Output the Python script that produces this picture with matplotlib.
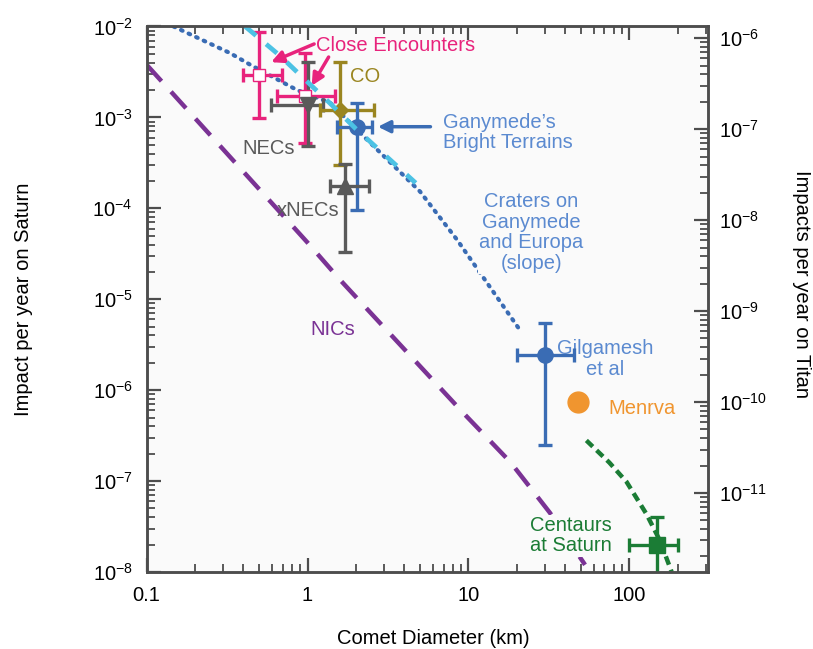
import numpy as np
import matplotlib
matplotlib.use("Agg")
import matplotlib.pyplot as plt
from matplotlib.ticker import LogLocator, NullFormatter, FixedLocator

plt.rcParams['font.family'] = ['Liberation Sans', 'DejaVu Sans']
plt.rcParams['mathtext.fontset'] = 'custom'
plt.rcParams['mathtext.rm'] = 'Liberation Sans'
plt.rcParams['mathtext.it'] = 'Liberation Sans:italic'

# Model curves (diameter km, impacts per year on Saturn)
nics_d = [0.1, 1.0, 1.6, 9.3, 18.2, 32.1, 53.0]
nics_rate = [3.8e-3, 4.2e-5, 1.62e-5, 5.6e-7, 1.62e-7, 4.47e-8, 1.2e-8]

craters_d = [0.147, 0.33, 0.44, 0.86, 1.38, 2.34, 5.0, 8.5, 20.5]
craters_rate = [1.0e-2, 5.1e-3, 3.8e-3, 2.0e-3, 1.45e-3, 5.7e-4, 1.53e-4, 4.5e-5, 4.8e-6]

bright_d = [0.41, 0.68, 0.97, 1.38, 1.98, 4.7]
bright_rate = [1.0e-2, 4.7e-3, 2.58e-3, 1.43e-3, 7.6e-4, 1.9e-4]

centaur_d = [54, 75, 96, 128, 155, 183]
centaur_rate = [2.8e-7, 1.6e-7, 9.8e-8, 4.3e-8, 2.2e-8, 1.0e-8]

# Measured points: (diameter, rate, d_low, d_high, rate_low, rate_high)
close1 = (0.50, 2.9e-3, 0.40, 0.69, 9.8e-4, 8.8e-3)
close2 = (0.97, 1.7e-3, 0.645, 1.49, 5.2e-4, 5.1e-3)
necs = (1.0, 1.37e-3, 0.59, 1.25, 4.8e-4, 4.1e-3)
co = (1.6, 1.2e-3, 1.2, 2.6, 3.0e-4, 4.1e-3)
ganymede = (2.03, 7.9e-4, 1.52, 2.5, 9.5e-5, 1.43e-3)
xnecs = (1.72, 1.74e-4, 1.38, 2.4, 3.3e-5, 3.1e-4)
gilgamesh = (30, 2.46e-6, 20, 45, 2.5e-7, 5.5e-6)
menrva = (48, 7.4e-7)
centaurs = (148, 2.0e-8, 100, 201, 5e-9, 4.0e-8)

saturn_to_titan = 10 ** -3.87
titan_ticks = [1e-6, 1e-7, 1e-8, 1e-9, 1e-10, 1e-11]

pink = '#e8237c'
grey = '#5a5a5a'
olive = '#9a8520'
blue = '#3a6cb4'
blue_txt = '#5b8ad0'
cyan = '#4cc2e4'
purple = '#7a3294'
orange = '#f0952f'
green = '#1b7c35'
spine_c = '#4d4d4d'

fig = plt.figure(figsize=(8.13, 6.49), dpi=100)
ax = fig.add_axes([0.1803, 0.1186, 0.6909, 0.8406])
ax.set_facecolor('#fafafa')
ax.set_xscale('log')
ax.set_yscale('log')
ax.set_xlim(0.1, 309)
ax.set_ylim(1e-8, 1e-2)

# curves
ax.plot(nics_d, nics_rate, color=purple, lw=3.2, dashes=(5, 3.2), zorder=2)
ax.plot(craters_d, craters_rate, color=blue, lw=3.0, ls=(0, (0.4, 1.6)),
        dash_capstyle='round', zorder=2)
ax.plot(bright_d, bright_rate, color=cyan, lw=3.4, dashes=(3.0, 2.8), zorder=5)
ax.plot(centaur_d, centaur_rate, color=green, lw=3.2, dashes=(2, 1.2), zorder=2)


def point(p, color, marker, size, face=None):
    d, r, dlo, dhi, rlo, rhi = p
    ax.errorbar([d], [r], xerr=[[d - dlo], [dhi - d]], yerr=[[r - rlo], [rhi - r]],
                fmt=marker, color=color, ms=size, mfc=face if face else color,
                mec=color, elinewidth=2.4, capsize=5, capthick=2.4, zorder=4)


point(close1, pink, 's', 9, face='white')
point(close2, pink, 's', 8, face='white')
point(necs, grey, 'v', 11)
point(co, olive, 'D', 8)
point(ganymede, blue, 'o', 11)
point(xnecs, grey, '^', 11)
point(gilgamesh, blue, 'o', 11)
point(centaurs, green, 's', 11)
ax.plot([menrva[0]], [menrva[1]], 'o', color=orange, ms=15, zorder=4)

# labels
fs = 14.5
bg = dict(facecolor='#fafafa', edgecolor='none', pad=1)
ax.text(1.13, 6.1e-3, 'Close Encounters', color=pink, fontsize=fs, ha='left', va='center')
ax.annotate('', xy=(0.573, 3.94e-3), xytext=(1.14, 6.6e-3),
            arrowprops=dict(arrowstyle='-|>', color=pink, lw=2.5, mutation_scale=18))
ax.annotate('', xy=(1.04, 2.1e-3), xytext=(1.38, 4.9e-3),
            arrowprops=dict(arrowstyle='-|>', color=pink, lw=2.5, mutation_scale=18))
ax.text(1.84, 2.8e-3, 'CO', color=olive, fontsize=fs, ha='left', va='center')
ax.text(0.57, 4.6e-4, 'NECs', color=grey, fontsize=fs, ha='center', va='center')
ax.text(1.01, 9.4e-5, 'xNECs', color=grey, fontsize=fs, ha='center', va='center')
ax.text(6.96, 6.8e-4, "Ganymede\u2019s\nBright Terrains", color=blue_txt, fontsize=fs,
        ha='left', va='center', linespacing=1.1)
ax.annotate('', xy=(2.63, 7.9e-4), xytext=(6.04, 7.9e-4),
            arrowprops=dict(arrowstyle='-|>', color=blue, lw=2.5, mutation_scale=18))
ax.text(24.5, 5.4e-5, 'Craters on\nGanymede\nand Europa\n(slope)', color=blue_txt,
        fontsize=fs, ha='center', va='center', linespacing=1.1, bbox=bg)
ax.text(1.44, 4.6e-6, 'NICs', color=purple, fontsize=fs, ha='center', va='center')
ax.text(70.6, 2.2e-6, 'Gilgamesh\net al', color=blue_txt, fontsize=fs,
        ha='center', va='center', linespacing=1.1)
ax.text(73.8, 6.3e-7, 'Menrva', color=orange, fontsize=fs, ha='left', va='center')
ax.text(43.5, 2.5e-8, 'Centaurs\nat Saturn', color=green, fontsize=fs,
        ha='center', va='center', linespacing=1.05, bbox=bg, zorder=3)

# axes styling
for s in ax.spines.values():
    s.set_color(spine_c)
    s.set_linewidth(1.8)
ax.xaxis.set_major_locator(FixedLocator([0.1, 1, 10, 100]))
ax.set_xticklabels(['0.1', '1', '10', '100'])
ax.xaxis.set_minor_locator(LogLocator(base=10, subs=np.arange(2, 10), numticks=20))
ax.yaxis.set_major_locator(LogLocator(base=10, numticks=20))
ax.yaxis.set_minor_locator(LogLocator(base=10, subs=np.arange(2, 10), numticks=20))
ax.yaxis.set_minor_formatter(NullFormatter())
ax.xaxis.set_minor_formatter(NullFormatter())
ax.tick_params(which='both', direction='in', top=True, right=False, color=spine_c,
               labelsize=fs)
ax.tick_params(which='major', length=10, width=1.6, pad=10)
ax.tick_params(which='minor', length=6, width=1.3)
ax.set_xlabel('Comet Diameter (km)', fontsize=fs)
ax.xaxis.set_label_coords(0.51, -0.105)
ax.set_ylabel('Impact per year on Saturn', fontsize=fs)
ax.yaxis.set_label_coords(-0.202, 0.5)

tx = ax.twinx()
tx.set_yscale('log')
tx.set_ylim(1e-8 * saturn_to_titan, 1e-2 * saturn_to_titan)
tx.yaxis.set_major_locator(FixedLocator(titan_ticks))
tx.set_yticklabels([r'$10^{%d}$' % int(np.log10(t)) for t in titan_ticks])
tx.yaxis.set_minor_locator(LogLocator(base=10, subs=np.arange(2, 10), numticks=20))
tx.yaxis.set_minor_formatter(NullFormatter())
tx.tick_params(which='both', direction='in', color=spine_c, labelsize=fs)
tx.tick_params(which='major', length=10, width=1.6, pad=8)
tx.tick_params(which='minor', length=6, width=1.3)
for s in tx.spines.values():
    s.set_color(spine_c)
    s.set_linewidth(1.8)
tx.set_ylabel('Impacts per year on Titan', fontsize=fs, rotation=270, va='center')
tx.yaxis.set_label_coords(1.166, 0.528)

fig.savefig('out.png', dpi=100)
